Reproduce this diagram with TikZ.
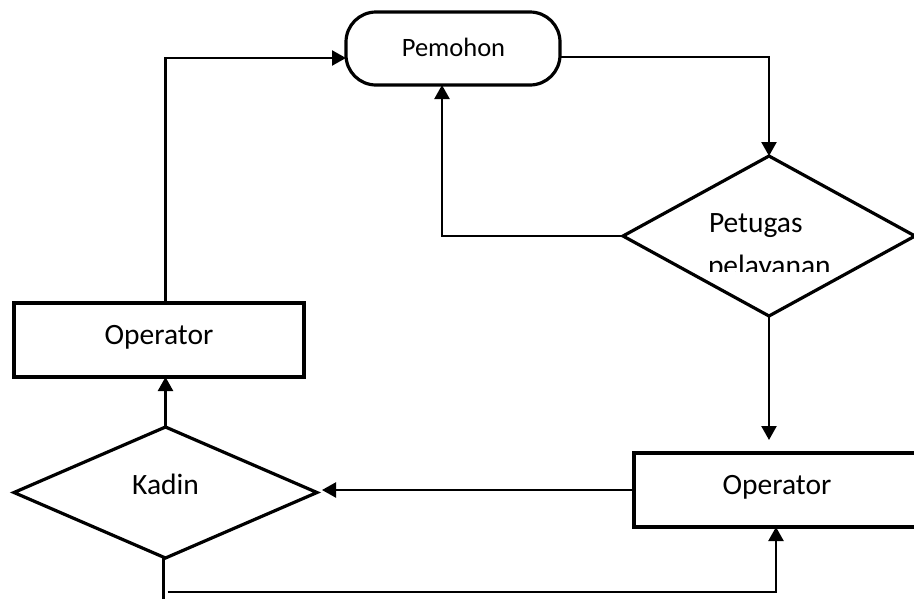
\documentclass[tikz,border=0pt]{standalone}
\usepackage{fontspec}
\setmainfont{Carlito}
\usetikzlibrary{shapes.geometric,arrows.meta,calc}
\begin{document}
\begin{tikzpicture}[x=1pt,y=-1pt,
  shapeline/.style={draw=black,line width=3.2pt,inner sep=0pt,outer sep=0pt},
  conn/.style={draw=black,line width=2.3pt,-{Triangle[length=14pt,width=15pt]}},
  plain/.style={draw=black,line width=2.3pt},
  txt/.style={inner sep=0pt,outer sep=0pt,anchor=base,font=\fontsize{29.5}{35}\selectfont},
  txtsmall/.style={txt,font=\fontsize{26.5}{32}\selectfont}]
\useasboundingbox (0,0) rectangle (914,598);
% shapes
\node[shapeline,rectangle,rounded corners=30pt,minimum width=214pt,minimum height=73pt] (pem) at (453,48.5) {};
\node[shapeline,diamond,minimum width=292pt,minimum height=160pt] (pet) at (769,236) {};
\node[shapeline,rectangle,minimum width=290pt,minimum height=74pt] (opL) at (159,340) {};
\node[shapeline,diamond,minimum width=303pt,minimum height=131pt] (kad) at (165.5,492.5) {};
\node[shapeline,rectangle,minimum width=286pt,minimum height=74pt] (opR) at (777,490) {};
% texts
\node[txtsmall] (tpem) at (453.5,56) {Pemohon};
\node[txt,anchor=base west] (tpet1) at (709,232) {Petugas};
\begin{scope}
  \clip (600,150) rectangle (914,271);
  \node[txt,anchor=base west] (tpet2) at (708,275) {pelayanan};
\end{scope}
\node[txt] (topL) at (159,344) {Operator};
\node[txt] (tkad) at (165.5,494) {Kadin};
\node[txt] (topR) at (777,494) {Operator};
% connectors
\draw[conn] (kad.north |- opL.north) |- ($(pem.west)+(0,9.5)$);
\draw[conn] ($(pem.east)+(0,8.5)$) -| (pet.north);
\draw[conn] (pet.west) -| ($(pem.south)+(-11,0)$);
\draw[conn] (pet.south) -- ($(pet.south |- opR.north)+(0,-13)$);
\draw[conn] (opR.west) -- ($(opR.west -| kad.east)+(5,0)$);
\draw[conn] (kad.north) -- (kad.north |- opL.south);
\coordinate (lowend) at ($(kad.south)+(-2,45)$);
\draw[plain] ($(kad.south)+(-2,0)$) -- (lowend);
\coordinate (lowstart) at ($(kad.south)+(2,34)$);
\draw[conn] (lowstart) -| ($(opR.south)+(-1,0)$);
\end{tikzpicture}
\end{document}
